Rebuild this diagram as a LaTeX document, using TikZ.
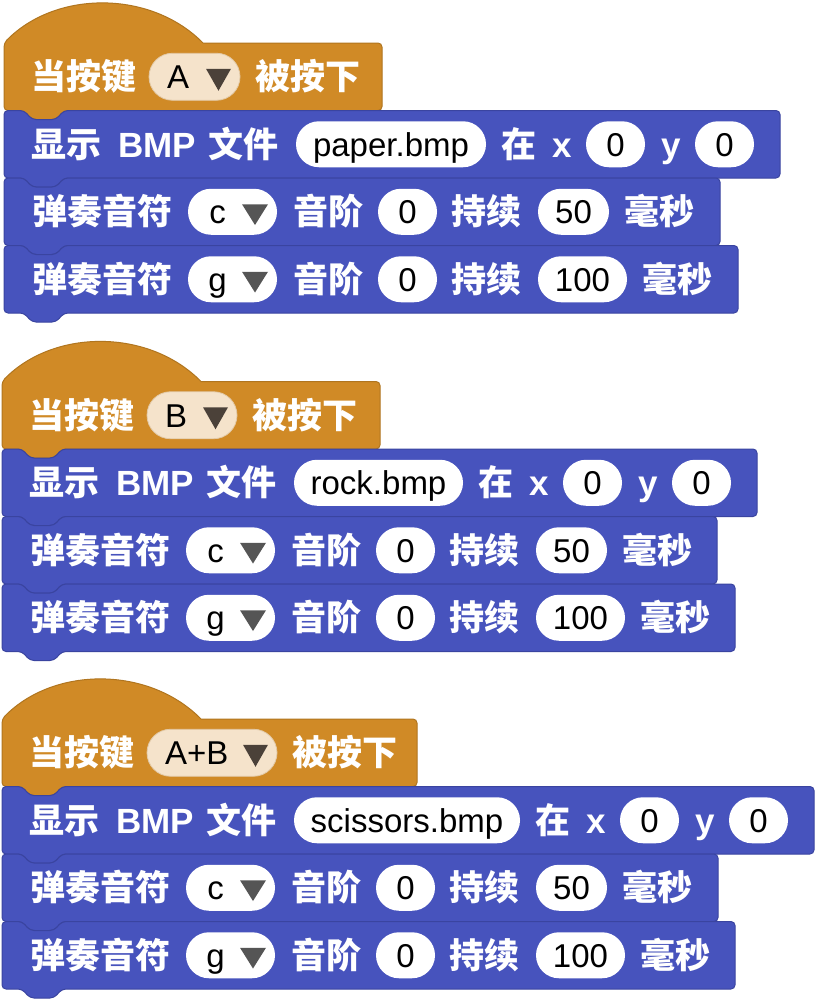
\documentclass[tikz,border=0pt]{standalone}
\usepackage{fontspec}
\setmainfont{Liberation Sans}
\newfontfamily\cjkfont{Noto Sans CJK SC}
\newfontfamily\latfont{Liberation Sans}
\newcommand\labcjk{\cjkfont\bfseries\fontsize{35pt}{35pt}\selectfont}
\newcommand\lablat{\latfont\bfseries\fontsize{35pt}{35pt}\selectfont}
\newcommand\valfont{\latfont\fontsize{33pt}{33pt}\selectfont}
\definecolor{blockblue}{HTML}{4753BD}
\definecolor{blockedge}{HTML}{3A44A0}
\definecolor{hatorange}{HTML}{D08A26}
\definecolor{hatedge}{HTML}{B0751F}
\definecolor{hatpill}{HTML}{F5E3CB}
\definecolor{hatpilledge}{HTML}{E2C9A6}
\definecolor{hattri}{HTML}{4B4139}
\definecolor{tridark}{HTML}{555555}
\tikzset{
  lab/.style={text=white, font=\labcjk, anchor=base west, inner sep=0pt},
  labl/.style={text=white, font=\lablat, anchor=base west, inner sep=0pt},
  val/.style={text=black, font=\valfont, anchor=base, inner sep=0pt},
  valw/.style={text=black, font=\valfont, anchor=base west, inner sep=0pt},
  blueblk/.style={fill=blockblue, draw=blockedge, line width=1pt, line join=round},
  orangeblk/.style={fill=hatorange, draw=hatedge, line width=1pt, line join=round},
  wpill/.style={fill=white, rounded corners=23pt},
  hpill/.style={fill=hatpill, draw=hatpilledge, line width=0.8pt, rounded corners=23.5pt},
  wtri/.style={fill=tridark},
  htri/.style={fill=hattri}
}
% hat block: name, width, key, pill right
\newcommand\hatblock[4]{%
  \path[orangeblk] (0,0) .. controls (52,-53) and (147,-53) .. (199,0)
    [rounded corners=4pt] -- (#2,0) -- (#2,67.5) -- (60,67.5) -- (52,76.5) -- (28,76.5) -- (20,67.5) -- (0,67.5) -- cycle;
  \node[lab] (#1-a) at (27,46.5) {当按键};
  \path[hpill] (145,10.25) rectangle (#4,57.25);
  \node[valw] (#1-k) at (163,45.5) {#3};
  \path[htri] (#4-34,25.75) -- (#4-9,25.75) -- (#4-21.5,47.75) -- cycle;
  \node[lab] (#1-b) at (#4+15,46.5) {被按下};
}
% stack block outline: width
\newcommand\stackshape[1]{%
  \path[blueblk, rounded corners=4pt] (0,0) -- (20,0) -- (28,9) -- (52,9) -- (60,0) -- (#1,0) -- (#1,67.5)
    -- (60,67.5) -- (52,76.5) -- (28,76.5) -- (20,67.5) -- (0,67.5) -- cycle;
}
% display block: name, width, file, pill right
\newcommand\dispblock[4]{%
  \stackshape{#2}
  \node[lab] (#1-a) at (27,46.5) {显示};
  \node[labl] (#1-b) at (114,46.5) {BMP};
  \node[lab] (#1-c) at (204,46.5) {文件};
  \path[wpill] (292,10.75) rectangle (#4,56.75);
  \node[val] (#1-f) at ({(292+#4)/2},45.5) {#3};
  \node[lab] (#1-d) at (#4+15,46.5) {在};
  \node[labl] (#1-x) at (#4+66,46.5) {x};
  \path[wpill] (#4+100,10.75) rectangle (#4+159,56.75);
  \node[val] (#1-xv) at (#4+129.5,45.5) {0};
  \node[labl] (#1-y) at (#4+175,46.5) {y};
  \path[wpill] (#4+209,10.75) rectangle (#4+268,56.75);
  \node[val] (#1-yv) at (#4+238.5,45.5) {0};
}
% note block: name, width, note, duration, pill right
\newcommand\noteblock[5]{%
  \stackshape{#2}
  \node[lab] (#1-a) at (28,46.5) {弹奏音符};
  \path[wpill] (184,10.75) rectangle (273,56.75);
  \node[val] (#1-n) at (213.5,45.5) {#3};
  \path[wtri] (238,26.25) -- (264,26.25) -- (251,47) -- cycle;
  \node[lab] (#1-b) at (289,46.5) {音阶};
  \path[wpill] (374,10.75) rectangle (433,56.75);
  \node[val] (#1-o) at (403.5,45.5) {0};
  \node[lab] (#1-c) at (447,46.5) {持续};
  \path[wpill] (534,10.75) rectangle (#5,56.75);
  \node[val] (#1-d) at ({(534+#5)/2},45.5) {#4};
  \node[lab] (#1-e) at (#5+15,46.5) {毫秒};
}
\begin{document}
\begin{tikzpicture}[x=1pt,y=-1pt]
\useasboundingbox[fill=white] (0,0) rectangle (816,1001);
% group 1
\begin{scope}[shift={(4,43)}]\hatblock{g1h}{378}{A}{236}\end{scope}
\begin{scope}[shift={(4,110.5)}]\dispblock{g1d}{776}{paper.bmp}{482}\end{scope}
\begin{scope}[shift={(4,178)}]\noteblock{g1c}{716}{c}{50}{605}\end{scope}
\begin{scope}[shift={(4,245.5)}]\noteblock{g1g}{734}{g}{100}{623}\end{scope}
% group 2
\begin{scope}[shift={(2,381.5)}]\hatblock{g2h}{378}{B}{235}\end{scope}
\begin{scope}[shift={(2,449)}]\dispblock{g2d}{755}{rock.bmp}{461}\end{scope}
\begin{scope}[shift={(2,516.5)}]\noteblock{g2c}{715}{c}{50}{605}\end{scope}
\begin{scope}[shift={(2,584)}]\noteblock{g2g}{733}{g}{100}{623}\end{scope}
% group 3
\begin{scope}[shift={(2,719)}]\hatblock{g3h}{415}{A+B}{275}\end{scope}
\begin{scope}[shift={(2,786.5)}]\dispblock{g3d}{812}{scissors.bmp}{518}\end{scope}
\begin{scope}[shift={(2,854)}]\noteblock{g3c}{716}{c}{50}{605}\end{scope}
\begin{scope}[shift={(2,921.5)}]\noteblock{g3g}{733}{g}{100}{623}\end{scope}
\end{tikzpicture}
\end{document}
